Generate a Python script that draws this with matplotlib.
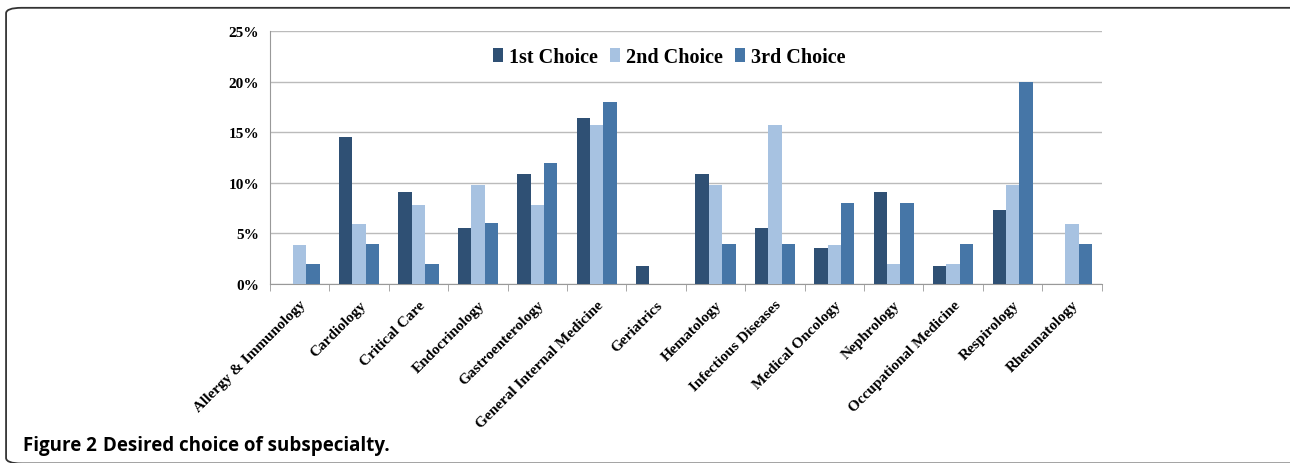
# grouped bar chart: desired choice of subspecialty
import numpy as np
import matplotlib.pyplot as plt
from matplotlib.patches import FancyBboxPatch

categories = ["Allergy & Immunology", "Cardiology", "Critical Care", "Endocrinology",
              "Gastroenterology", "General Internal Medicine", "Geriatrics", "Hematology",
              "Infectious Diseases", "Medical Oncology", "Nephrology",
              "Occupational Medicine", "Respirology", "Rheumatology"]
first = [0, 14.5, 9.1, 5.5, 10.9, 16.4, 1.8, 10.9, 5.5, 3.6, 9.1, 1.8, 7.3, 0]
second = [3.9, 5.9, 7.8, 9.8, 7.8, 15.7, 0, 9.8, 15.7, 3.9, 2.0, 2.0, 9.8, 5.9]
third = [2, 4, 2, 6, 12, 18, 0, 4, 4, 8, 8, 4, 20, 4]
series_names = ["1st Choice", "2nd Choice", "3rd Choice"]
colors = ["#2F5074", "#A7C2E1", "#4676A7"]

fig = plt.figure(figsize=[12.9, 4.64], dpi=100)
ax = fig.add_axes([0.2093, 0.3858, 0.6447, 0.5452])

x = np.arange(len(categories))
w = 0.225
for i, vals in enumerate([first, second, third]):
    ax.bar(x + (i - 1) * w, vals, w, color=colors[i], label=series_names[i], zorder=3)

ax.set_xlim(-0.5, len(categories) - 0.5)
ax.set_ylim(0, 25)
ax.set_yticks(range(0, 26, 5))
ax.set_yticklabels([f"{v}%" for v in range(0, 26, 5)],
                   fontfamily="Liberation Serif", fontweight="bold", fontsize=11)
ax.yaxis.grid(True, color="#BBBBBB", lw=1, zorder=0)
ax.tick_params(axis="y", length=0, pad=8)

# ticks sit between the categories, labels on the centers
ax.set_xticks(np.arange(-0.5, len(categories)), minor=True)
ax.set_xticks(x)
ax.set_xticklabels(categories, rotation=45, ha="right", rotation_mode="anchor",
                   fontfamily="Liberation Serif", fontweight="bold", fontsize=11)
ax.tick_params(axis="x", which="major", length=0, pad=10)
ax.tick_params(axis="x", which="minor", length=5, color="#999999")

for s in ["top", "right"]:
    ax.spines[s].set_visible(False)
ax.spines["left"].set_color("#999999")
ax.spines["bottom"].set_color("#999999")

leg = ax.legend(loc="center", bbox_to_anchor=(0.48, 0.897), ncol=3, frameon=False,
                handlelength=0.5, handleheight=0.7, handletextpad=0.3, columnspacing=0.6,
                prop={"family": "Liberation Serif", "weight": "bold", "size": 14.5})

# outer rounded frame (runs off the right edge) and caption
frame = FancyBboxPatch((0.0047, -0.001), 1.01, 0.982, boxstyle="round,pad=0,rounding_size=0.012",
                       transform=fig.transFigure, fill=False, ec="#333333", lw=1.3,
                       clip_on=False)
fig.patches.append(frame)
fig.text(0.0175, 0.027, "Figure 2", fontfamily="Open Sans", fontweight="bold", fontsize=13.5,
         va="baseline")
fig.text(0.08, 0.027, "Desired choice of subspecialty.", fontfamily="Open Sans",
         fontweight="bold", fontsize=13.5, va="baseline")

plt.savefig("out.png", dpi=100)
